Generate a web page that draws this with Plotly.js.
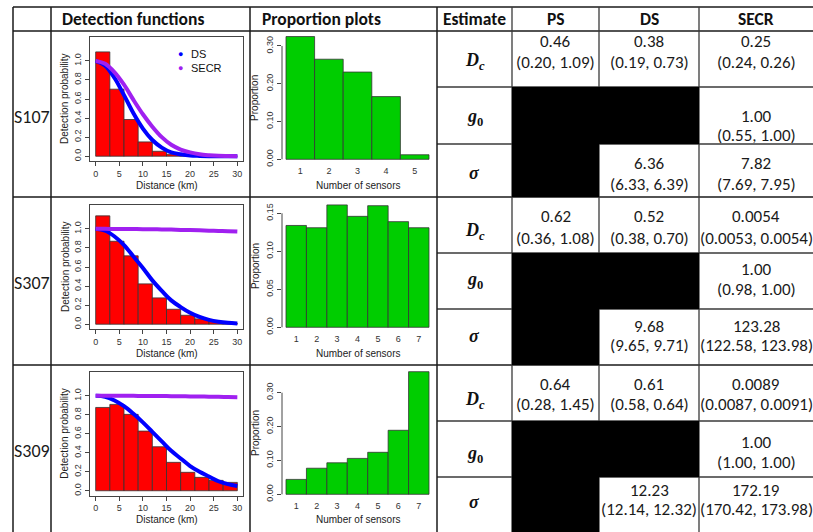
<!DOCTYPE html>
<html>
<head>
<meta charset="utf-8">
<script src="https://cdn.plot.ly/plotly-3.0.1.min.js"></script>
<style>
  html, body { margin: 0; padding: 0; background: #ffffff; }
  #chart { width: 813px; height: 532px; }
</style>
</head>
<body>
<div id="chart"></div>
<script>
// ---------------- data ----------------
const sites = ['S107', 'S307', 'S309'];
const columnHeads = ['Detection functions', 'Proportion plots', 'Estimate', 'PS', 'DS', 'SECR'];
const estimateLabels = ['<b><i>D<sub>c</sub></i></b>', '<b><i>g</i><sub>0</sub></b>', '<b><i>σ</i></b>'];

// density of calling animals (point estimate and 95% interval)
const psDc = ['0.46', '0.62', '0.64'];
const psDcCI = ['(0.20, 1.09)', '(0.36, 1.08)', '(0.28, 1.45)'];
const dsDc = ['0.38', '0.52', '0.61'];
const dsDcCI = ['(0.19, 0.73)', '(0.38, 0.70)', '(0.58, 0.64)'];
const secrDc = ['0.25', '0.0054', '0.0089'];
const secrDcCI = ['(0.24, 0.26)', '(0.0053, 0.0054)', '(0.0087, 0.0091)'];
// detection probability at distance zero
const secrG0 = ['1.00', '1.00', '1.00'];
const secrG0CI = ['(0.55, 1.00)', '(0.98, 1.00)', '(1.00, 1.00)'];
// scale parameter of the half-normal detection function (km)
const dsSigma = ['6.36', '9.68', '12.23'];
const dsSigmaCI = ['(6.33, 6.39)', '(9.65, 9.71)', '(12.14, 12.32)'];
const secrSigma = ['7.82', '123.28', '172.19'];
const secrSigmaCI = ['(7.69, 7.95)', '(122.58, 123.98)', '(170.42, 173.98)'];

// scaled histogram of detection distances, 3 km bins
const binStart = [0, 3, 6, 9, 12, 15, 18, 21, 24, 27];
const histS107 = [1.094, 0.703, 0.385, 0.150, 0.052, 0.021, 0.007, 0.003, 0.001, 0];
const histS307 = [1.136, 0.870, 0.717, 0.423, 0.276, 0.157, 0.094, 0.056, 0.028, 0.010];
const histS309 = [0.877, 0.909, 0.804, 0.628, 0.463, 0.299, 0.194, 0.141, 0.109, 0.088];

// fitted detection functions
const curveDist = [0, 2, 4, 6, 8, 10, 12, 14, 16, 18, 20, 22, 24, 26, 28, 30];
const dsCurveS107 = [1.00, 0.95, 0.82, 0.64, 0.45, 0.29, 0.17, 0.09, 0.04, 0.02, 0.007, 0.003, 0.001, 0, 0, 0];
const secrCurveS107 = [1.00, 0.97, 0.88, 0.75, 0.59, 0.44, 0.31, 0.20, 0.12, 0.07, 0.04, 0.02, 0.01, 0.004, 0.002, 0.001];
const dsCurveS307 = [1.00, 0.98, 0.92, 0.83, 0.71, 0.59, 0.46, 0.35, 0.25, 0.18, 0.12, 0.076, 0.046, 0.027, 0.015, 0.008];
const secrCurveS307 = [1.000, 1.000, 0.999, 0.999, 0.998, 0.997, 0.995, 0.994, 0.992, 0.989, 0.987, 0.984, 0.981, 0.978, 0.975, 0.971];
const dsCurveS309 = [1.00, 0.99, 0.95, 0.89, 0.81, 0.72, 0.62, 0.52, 0.42, 0.34, 0.26, 0.20, 0.15, 0.10, 0.07, 0.05];
const secrCurveS309 = [1.000, 1.000, 1.000, 0.999, 0.999, 0.998, 0.998, 0.997, 0.996, 0.995, 0.993, 0.992, 0.990, 0.989, 0.987, 0.985];

// proportion of detections by number of sensors
const sensorsS107 = [1, 2, 3, 4, 5];
const propS107 = [0.325, 0.265, 0.231, 0.166, 0.012];
const sensorsS307 = [1, 2, 3, 4, 5, 6, 7];
const propS307 = [0.134, 0.131, 0.161, 0.146, 0.160, 0.139, 0.131];
const sensorsS309 = [1, 2, 3, 4, 5, 6, 7];
const propS309 = [0.044, 0.077, 0.093, 0.106, 0.124, 0.189, 0.362];

// axis ticks
const distTicks = [0, 5, 10, 15, 20, 25, 30];
const probTicks = [0, 0.2, 0.4, 0.6, 0.8, 1.0];
const propTicksS107 = [0, 0.10, 0.20, 0.30];
const propTicksS307 = [0, 0.05, 0.10, 0.15];
const propTicksS309 = [0, 0.10, 0.20, 0.30];

// ---------------- layout helpers ----------------
const W = 813, H = 532;
const fx = v => v / W;
const fy = v => 1 - v / H;

const fontTable = 'Carlito, Lato, "Liberation Sans", sans-serif';
const fontPlot = '"Liberation Sans", Arial, sans-serif';
const fontMath = '"Liberation Serif", "DejaVu Serif", serif';
const ink = '#1c1c1c';
const axisInk = '#444444';

const detHist = [histS107, histS307, histS309];
const dsCurves = [dsCurveS107, dsCurveS307, dsCurveS309];
const secrCurves = [secrCurveS107, secrCurveS307, secrCurveS309];
const sensorCounts = [sensorsS107, sensorsS307, sensorsS309];
const propVals = [propS107, propS307, propS309];
const propTicks = [propTicksS107, propTicksS307, propTicksS309];

// pixel frames of the small plots in each block
const detLeft = 90, detRight = 243;
const detFrame = [{ top: 37, bottom: 161 }, { top: 205, bottom: 329 }, { top: 372, bottom: 495.5 }];
const propLeft = 282, propRight = 433, propBarsLeft = 286, propBarsRight = 429;
const propZeroPx = [159.3, 327.3, 494.3];
const propTopTickPx = [46, 213.3, 392.7];

// table rules
const colX = [13, 51, 250, 437, 512, 599, 699];
const blockY = [7, 31, 197, 365];
const subY = [87, 144, 253, 309, 421, 477];
const blockRows = [[31, 87, 144, 197], [197, 253, 309, 365], [365, 421, 477, 532]];

// text placement inside each block: [first line, second line] for the Dc, g0 and sigma rows
const siteLabelY = [116.5, 283, 451];
const symbolY = [[61, 118, 173], [231, 280, 336], [400, 454, 502]];
const cellLineY = [
  [[41.7, 62.3], [116, 135.5], [163, 184]],
  [[216.5, 238], [269.5, 289], [326, 345]],
  [[384, 404], [442, 462], [490.5, 509.5]]
];
const colCenter = { est: 474.5, ps: 555.5, ds: 649, secr: 756 };

const traces = [];
const layout = {
  width: W, height: H,
  margin: { l: 0, r: 0, t: 0, b: 0 },
  paper_bgcolor: '#ffffff', plot_bgcolor: '#ffffff',
  showlegend: false,
  font: { family: fontPlot, color: ink },
  shapes: [], annotations: []
};

function note(text, x, y, opts) {
  layout.annotations.push(Object.assign({
    text: text, x: fx(x), y: fy(y), xref: 'paper', yref: 'paper',
    showarrow: false, xanchor: 'center', yanchor: 'middle',
    font: { family: fontTable, size: 15, color: ink }
  }, opts || {}));
}

// ---------------- small plots ----------------
for (let i = 0; i < 3; i++) {
  const nd = 2 * i + 1, np = 2 * i + 2;
  const dx = 'x' + (nd === 1 ? '' : nd), dy = 'y' + (nd === 1 ? '' : nd);
  const px = 'x' + np, py = 'y' + np;

  // detection distance histogram and fitted curves
  traces.push({
    type: 'bar', x: binStart, y: detHist[i], width: 3, offset: 0,
    marker: { color: '#ff0000', line: { color: '#333333', width: 0.8 } },
    xaxis: dx, yaxis: dy, hoverinfo: 'skip'
  });
  traces.push({
    type: 'scatter', mode: 'lines', x: curveDist, y: dsCurves[i],
    line: { color: '#0000ff', width: 4, shape: 'spline' },
    xaxis: dx, yaxis: dy, hoverinfo: 'skip'
  });
  traces.push({
    type: 'scatter', mode: 'lines', x: curveDist, y: secrCurves[i],
    line: { color: '#a020f0', width: 4, shape: 'spline' },
    xaxis: dx, yaxis: dy, hoverinfo: 'skip'
  });

  const tickFont = { family: fontPlot, size: 9, color: '#333333' };
  layout['xaxis' + (nd === 1 ? '' : nd)] = {
    domain: [fx(detLeft), fx(detRight)], anchor: dy,
    range: [-1.2, 31.2], tickvals: distTicks, ticks: 'outside', ticklen: 4,
    tickcolor: axisInk, showline: true, mirror: true, linecolor: axisInk, linewidth: 1,
    showgrid: false, zeroline: false, tickfont: tickFont, fixedrange: true
  };
  layout['yaxis' + (nd === 1 ? '' : nd)] = {
    domain: [fy(detFrame[i].bottom), fy(detFrame[i].top)], anchor: dx,
    range: [-0.05, 1.25], tickvals: probTicks, tickformat: '.1f', tickangle: -90,
    ticks: 'outside', ticklen: 4, tickcolor: axisInk,
    showline: true, mirror: true, linecolor: axisInk, linewidth: 1,
    showgrid: false, zeroline: false, tickfont: tickFont, fixedrange: true
  };

  // proportion bar chart
  traces.push({
    type: 'bar', x: sensorCounts[i], y: propVals[i], width: 1,
    marker: { color: '#00cd00', line: { color: '#333333', width: 0.8 } },
    xaxis: px, yaxis: py, hoverinfo: 'skip'
  });
  const n = sensorCounts[i].length;
  const barPx = (propBarsRight - propBarsLeft) / n;
  const maxP = Math.max(...propVals[i]);
  const topTick = propTicks[i][propTicks[i].length - 1];
  const unitPx = (propZeroPx[i] - propTopTickPx[i]) / topTick;
  const yLo = -0.04 * maxP, yHi = 1.04 * maxP;
  layout['xaxis' + np] = {
    domain: [fx(propLeft), fx(propRight)], anchor: py,
    range: [0.5 - (propBarsLeft - propLeft) / barPx, n + 0.5 + (propRight - propBarsRight) / barPx],
    tickvals: sensorCounts[i], ticks: '', showline: false, showgrid: false, zeroline: false,
    tickfont: tickFont, fixedrange: true
  };
  layout['yaxis' + np] = {
    domain: [fy(propZeroPx[i] - yLo * unitPx), fy(propZeroPx[i] - yHi * unitPx)], anchor: px,
    range: [yLo, yHi], tickvals: propTicks[i], tickformat: '.2f', tickangle: -90,
    ticks: 'outside', ticklen: 4, tickcolor: axisInk, showline: false,
    showgrid: false, zeroline: false, tickfont: tickFont, fixedrange: true
  };
  // R-style axis line running from the first to the last tick
  layout.shapes.push({
    type: 'line', xref: px + ' domain', yref: py, x0: 0, x1: 0, y0: 0, y1: topTick,
    line: { color: axisInk, width: 1 }
  });

  // axis titles
  const titleFont = { family: fontPlot, size: 10, color: '#222222' };
  const detMid = (detFrame[i].top + detFrame[i].bottom) / 2;
  note('Detection probability', 65, detMid, { textangle: -90, font: titleFont });
  note('Distance (km)', (detLeft + detRight) / 2, detFrame[i].bottom + 24, { font: titleFont });
  const propMid = propZeroPx[i] - ((yLo + yHi) / 2) * unitPx;
  note('Proportion', 255, propMid, { textangle: -90, font: titleFont });
  note('Number of sensors', (propBarsLeft + propBarsRight) / 2, detFrame[i].bottom + 24, { font: titleFont });
}

// key for the first detection plot
const keyFont = { family: fontPlot, size: 11, color: '#111111' };
note('<span style="color:#0000ff">●</span>', 180, 54.3, { font: { family: fontPlot, size: 9 } });
note('DS', 189, 54.3, { xanchor: 'left', font: keyFont });
note('<span style="color:#a020f0">●</span>', 180, 67.7, { font: { family: fontPlot, size: 9 } });
note('SECR', 189, 67.7, { xanchor: 'left', font: keyFont });

// ---------------- table ----------------
const rule = (x0, y0, x1, y1, color, width) => layout.shapes.push({
  type: 'line', xref: 'paper', yref: 'paper', x0: fx(x0), y0: fy(y0), x1: fx(x1), y1: fy(y1),
  line: { color: color, width: width }
});
blockY.forEach(y => rule(colX[0], y, W, y, '#1a1a1a', 1.5));
subY.forEach(y => rule(colX[3], y, W, y, '#3a3a3a', 1.3));
colX.forEach((x, k) => rule(x, blockY[0], x, H, k < 4 ? '#1a1a1a' : '#3a3a3a', k < 4 ? 1.5 : 1.3));

// blacked-out cells: parameters a method does not estimate
for (let b = 0; b < 3; b++) {
  const r = blockRows[b];
  layout.shapes.push({ type: 'rect', xref: 'paper', yref: 'paper',
    x0: fx(colX[4]), x1: fx(colX[6]), y0: fy(r[2]), y1: fy(r[1]),
    fillcolor: '#000000', line: { width: 0 }, layer: 'above' });
  layout.shapes.push({ type: 'rect', xref: 'paper', yref: 'paper',
    x0: fx(colX[4]), x1: fx(colX[5]), y0: fy(r[3]), y1: fy(r[2]),
    fillcolor: '#000000', line: { width: 0 }, layer: 'above' });
}

// header row
const headFont = { family: fontTable, size: 17.5, color: '#111111', weight: 'bold' };
note('<b>' + columnHeads[0] + '</b>', 60, 19.5, { xanchor: 'left', font: headFont });
note('<b>' + columnHeads[1] + '</b>', 260, 19.5, { xanchor: 'left', font: headFont });
note('<b>' + columnHeads[2] + '</b>', colCenter.est, 19.5, { font: headFont });
note('<b>' + columnHeads[3] + '</b>', colCenter.ps, 19.5, { font: headFont });
note('<b>' + columnHeads[4] + '</b>', colCenter.ds, 19.5, { font: headFont });
note('<b>' + columnHeads[5] + '</b>', colCenter.secr, 19.5, { font: headFont });

const cellFont = { family: fontTable, size: 17, color: '#1a1a1a' };
const mathFont = { family: fontMath, size: 18, color: '#111111' };
const cell = (value, ci, x, lines) => {
  note(value, x, lines[0], { font: cellFont });
  note(ci, x, lines[1], { font: cellFont });
};
for (let b = 0; b < 3; b++) {
  note(sites[b], 31.5, siteLabelY[b], { font: { family: fontTable, size: 18, color: '#1a1a1a' } });
  estimateLabels.forEach((lab, k) => note(lab, colCenter.est, symbolY[b][k], { font: mathFont }));
  const L = cellLineY[b];
  cell(psDc[b], psDcCI[b], colCenter.ps, L[0]);
  cell(dsDc[b], dsDcCI[b], colCenter.ds, L[0]);
  cell(secrDc[b], secrDcCI[b], colCenter.secr, L[0]);
  cell(secrG0[b], secrG0CI[b], colCenter.secr, L[1]);
  cell(dsSigma[b], dsSigmaCI[b], colCenter.ds, L[2]);
  cell(secrSigma[b], secrSigmaCI[b], colCenter.secr, L[2]);
}

Plotly.newPlot('chart', traces, layout, { staticPlot: true, displayModeBar: false });
</script>
</body>
</html>
